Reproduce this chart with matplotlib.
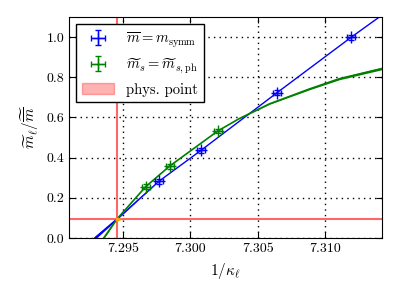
import matplotlib
matplotlib.use("Agg")
import matplotlib.pyplot as plt
from matplotlib.patches import Patch
from matplotlib.ticker import FormatStrFormatter, MultipleLocator

plt.rcParams["font.family"] = "serif"
plt.rcParams["font.serif"] = ["cmr10", "DejaVu Serif"]
plt.rcParams["mathtext.fontset"] = "cm"
plt.rcParams["axes.unicode_minus"] = False
plt.rcParams["axes.formatter.use_mathtext"] = True

# measured points (symmetric-mass and physical strange-mass trajectories)
symm_x = [7.29768, 7.30080, 7.30644, 7.31194]
symm_y = [0.283, 0.437, 0.724, 1.000]
strange_x = [7.29668, 7.29846, 7.30204]
strange_y = [0.255, 0.358, 0.533]

# fit curves
symm_fit_x = [7.2929, 7.29459, 7.29768, 7.30080, 7.30644, 7.31194, 7.31401, 7.3146]
symm_fit_y = [0.0, 0.097, 0.283, 0.437, 0.724, 1.000, 1.100, 1.128]
symm_band = [0.008, 0.003, 0.0, 0.0, 0.0, 0.0, 0.0, 0.0]
strange_fit_x = [7.29357, 7.29459, 7.29668, 7.29846, 7.30204, 7.30359, 7.30587,
                 7.30883, 7.31105, 7.3146]
strange_fit_y = [0.0, 0.097, 0.255, 0.358, 0.533, 0.593, 0.668, 0.742, 0.793, 0.850]
strange_band = [0.004, 0.0, 0.0, 0.0, 0.0, 0.0, 0.002, 0.004, 0.005, 0.006]

# physical point
phys_x = 7.29459
phys_y = 0.097

fig = plt.figure(figsize=(3.99, 2.99), dpi=100)
ax = fig.add_axes([0.173, 0.204, 0.784, 0.739])

ax.axvline(phys_x, color="red", alpha=0.6, lw=1.5, zorder=1)
ax.axhline(phys_y, color="red", alpha=0.6, lw=1.5, zorder=1)

ax.plot(symm_fit_x, symm_fit_y, color="blue", lw=1.0, zorder=2)
ax.fill_between(symm_fit_x,
                [y - b for y, b in zip(symm_fit_y, symm_band)],
                [y + b for y, b in zip(symm_fit_y, symm_band)],
                color="blue", lw=0, zorder=2)
ax.plot(strange_fit_x, strange_fit_y, color="green", lw=1.2, zorder=2)
ax.fill_between(strange_fit_x,
                [y - b for y, b in zip(strange_fit_y, strange_band)],
                [y + b for y, b in zip(strange_fit_y, strange_band)],
                color="green", lw=0, zorder=2)

h_symm = ax.errorbar(symm_x, symm_y, xerr=0.0003, yerr=0.012, fmt="+", color="blue",
                     ms=9, mew=1.0, elinewidth=1.0, capsize=2.5, zorder=3)
h_strange = ax.errorbar(strange_x, strange_y, xerr=0.0003, yerr=0.012, fmt="+",
                        color="green", ms=9, mew=1.0, elinewidth=1.0, capsize=2.5,
                        zorder=3)
ax.errorbar([phys_x], [phys_y], xerr=0.0002, yerr=0.01, fmt="none", color="orange",
            lw=2, zorder=4)

ax.set_xlim(7.291, 7.3142)
ax.set_ylim(0, 1.1)
ax.xaxis.set_major_locator(MultipleLocator(0.005))
ax.xaxis.set_major_formatter(FormatStrFormatter("%.3f"))
ax.yaxis.set_major_locator(MultipleLocator(0.2))
ax.yaxis.set_major_formatter(FormatStrFormatter("%.1f"))
ax.tick_params(direction="in", top=True, right=True, length=4, labelsize=10)
ax.grid(True, color="k", linestyle=(0, (1, 3)), lw=1.0)
ax.set_axisbelow(True)

ax.set_xlabel(r"$1/\kappa_\ell$", fontsize=11)
ax.set_ylabel(r"$\widetilde{m}_\ell/\widetilde{\overline{m}}$", fontsize=11)

phys_patch = Patch(facecolor="red", edgecolor="red", alpha=0.3)
ax.legend([h_symm, h_strange, phys_patch],
          [r"$\overline{m} = m_{\rm symm}$",
           r"$\widetilde{m}_s = \widetilde{m}_{s,\rm ph}$",
           "phys. point"],
          loc="upper left", fontsize=10.5, fancybox=False, edgecolor="black",
          framealpha=1, handlelength=2.2, numpoints=1)

fig.savefig("out.png", dpi=100)
